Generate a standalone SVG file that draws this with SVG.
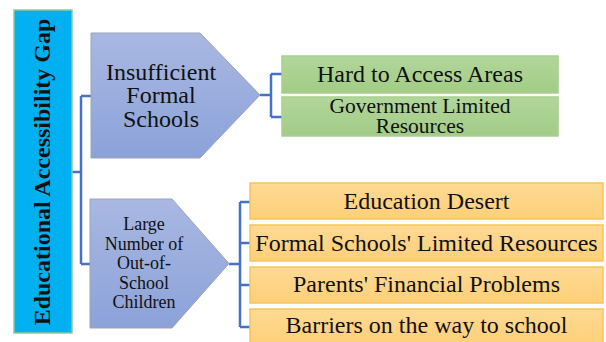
<svg xmlns="http://www.w3.org/2000/svg" width="606" height="342" viewBox="0 0 606 342">
  <defs>
    <linearGradient id="gPent" x1="0" y1="0" x2="0" y2="1">
      <stop offset="0" stop-color="#A9B8E2"/>
      <stop offset="1" stop-color="#8BA2D9"/>
    </linearGradient>
    <linearGradient id="gGreen" x1="0" y1="0" x2="0" y2="1">
      <stop offset="0" stop-color="#B2D69B"/>
      <stop offset="1" stop-color="#A2CC86"/>
    </linearGradient>
    <linearGradient id="gOrange" x1="0" y1="0" x2="0" y2="1">
      <stop offset="0" stop-color="#FFDA94"/>
      <stop offset="1" stop-color="#FDCF78"/>
    </linearGradient>
  </defs>
  <style>
    text { font-family: "Liberation Serif", "Times New Roman", serif; fill: #111; text-anchor: middle; }
    .pent { fill: url(#gPent); stroke: #9AA3B8; stroke-width: 1; }
    .green { fill: url(#gGreen); stroke: #A8D08D; stroke-width: 1.5; }
    .orange { fill: url(#gOrange); stroke: #F7C45A; stroke-width: 1.5; }
    .conn { fill: none; stroke: #4472C4; stroke-width: 2.5; }
  </style>

  <!-- connectors -->
  <g id="connectors">
    <path class="conn" d="M72,172 H81 M81,96 V264 M81,96 H91 M81,264 H91"/>
    <path class="conn" d="M260,95 H271 M271,74 V117 M271,74 H282 M271,117 H282"/>
    <path class="conn" d="M229,264 H240 M240,202 V327 M240,202 H250 M240,243 H250 M240,285 H250 M240,327 H250"/>
  </g>

  <!-- root -->
  <g id="root">
    <rect x="14" y="10" width="58" height="323" fill="#00B0F0" stroke="#8CC9A0" stroke-width="1.5"/>
    <text transform="translate(50,172) rotate(-90)" font-size="24" font-weight="bold">Educational Accessibility Gap</text>
  </g>

  <!-- first branch -->
  <g id="insufficient">
    <polygon class="pent" points="91,33 200,33 260,95 200,158 91,158"/>
    <text font-size="24"><tspan x="161" y="80">Insufficient</tspan><tspan x="161" y="103">Formal</tspan><tspan x="161" y="127">Schools</tspan></text>
  </g>
  <g id="hard-access">
    <rect class="green" x="282" y="56" width="276" height="37"/>
    <text x="420" y="82" font-size="24">Hard to Access Areas</text>
  </g>
  <g id="gov-limited">
    <rect class="green" x="282" y="97" width="276" height="39"/>
    <text font-size="21.5"><tspan x="420" y="113">Government Limited</tspan><tspan x="420" y="132.5">Resources</tspan></text>
  </g>

  <!-- second branch -->
  <g id="out-of-school">
    <polygon class="pent" points="90,199 172,199 229,263.5 172,328 90,328"/>
    <text font-size="18"><tspan x="144" y="230">Large</tspan><tspan x="144" y="249.5">Number of</tspan><tspan x="144" y="269">Out-of-</tspan><tspan x="144" y="288.5">School</tspan><tspan x="144" y="307.5">Children</tspan></text>
  </g>
  <g id="education-desert">
    <rect class="orange" x="250" y="183" width="353" height="36"/>
    <text x="426.5" y="209.3" font-size="24">Education Desert</text>
  </g>
  <g id="formal-limited">
    <rect class="orange" x="250" y="225" width="353" height="36"/>
    <text x="426.5" y="250.7" font-size="24">Formal Schools' Limited Resources</text>
  </g>
  <g id="parents-financial">
    <rect class="orange" x="250" y="267" width="353" height="36"/>
    <text x="426.5" y="291.7" font-size="24">Parents' Financial Problems</text>
  </g>
  <g id="barriers">
    <rect class="orange" x="250" y="309" width="353" height="36"/>
    <text x="426.5" y="332.7" font-size="24">Barriers on the way to school</text>
  </g>
</svg>
